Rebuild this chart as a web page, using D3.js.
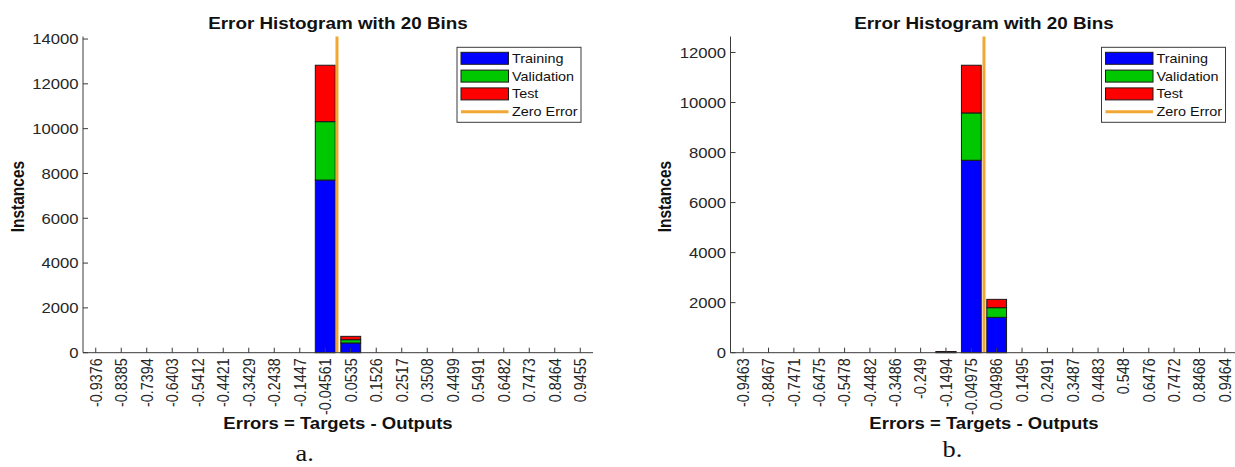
<!DOCTYPE html>
<html>
<head>
<meta charset="utf-8">
<script src="https://cdn.jsdelivr.net/npm/d3@7"></script>
<style>
  html, body { margin: 0; padding: 0; background: #ffffff; }
  svg { display: block; font-family: "Liberation Sans", Arial, sans-serif; }
</style>
</head>
<body>
<svg id="chart" width="1235" height="467"></svg>
<script>
// ---------------- DATA ----------------
const binLabelsA = ["-0.9376","-0.8385","-0.7394","-0.6403","-0.5412","-0.4421","-0.3429","-0.2438","-0.1447","-0.04561",
                    "0.0535","0.1526","0.2517","0.3508","0.4499","0.5491","0.6482","0.7473","0.8464","0.9455"];
const trainA = [0,0,0,0,0,0,0,0,0,7706, 435,0,0,0,0,0,0,0,0,0];
const valA   = [0,0,0,0,0,0,0,0,0,2607, 145,0,0,0,0,0,0,0,0,0];
const testA  = [0,0,0,0,0,0,0,0,0,2517, 150,0,0,0,0,0,0,0,0,0];
const yTicksA = [0,2000,4000,6000,8000,10000,12000,14000];

const binLabelsB = ["-0.9463","-0.8467","-0.7471","-0.6475","-0.5478","-0.4482","-0.3486","-0.249","-0.1494","-0.04975",
                    "0.04986","0.1495","0.2491","0.3487","0.4483","0.548","0.6476","0.7472","0.8468","0.9464"];
const trainB = [0,0,0,0,0,0,0,0,30,7692, 1412,0,0,0,0,0,0,0,0,0];
const valB   = [0,0,0,0,0,0,0,0,6,1892, 388,0,0,0,0,0,0,0,0,0];
const testB  = [0,0,0,0,0,0,0,0,6,1906, 332,0,0,0,0,0,0,0,0,0];
const yTicksB = [0,2000,4000,6000,8000,10000,12000];

const seriesNames = ["Training","Validation","Test"];
const seriesColors = ["#0000ff","#00c800","#ff0000"];
const zeroName = "Zero Error";
const titleText = "Error Histogram with 20 Bins";
const xLabelText = "Errors = Targets - Outputs";
const yLabelText = "Instances";
const subLabels = ["a.","b."];

// ---------------- LAYOUT ----------------
const svg = d3.select("#chart");
const SX = 1.15; // horizontal stretch of the original figure
const panels = [
  {labels: binLabelsA, series: [trainA, valA, testA], yTicks: yTicksA, xRange: [83, 593], sub: subLabels[0], subX: 295.5, subY: 460.5},
  {labels: binLabelsB, series: [trainB, valB, testB], yTicks: yTicksB, xRange: [730.5, 1237.5], sub: subLabels[1], subX: 942.5, subY: 457.3}
];
const yBottom = 352.7, yTop = 36.5;
const axisColor = "#3a3a3a", textColor = "#262626";
const zeroColor = "#f0a733";

function txt(g, x, y, s, o) {
  o = o || {};
  const t = g.append("text")
    .attr("transform", `translate(${x},${y}) scale(${o.sx || SX},1)` + (o.rot ? " rotate(-90)" : ""))
    .attr("font-size", o.size || 14)
    .attr("font-weight", o.bold ? "bold" : "normal")
    .attr("text-anchor", o.anchor || "start")
    .attr("fill", o.color || textColor)
    .text(s);
  if (o.dy) t.attr("dy", o.dy);
  if (o.family) t.attr("font-family", o.family);
  return t;
}

panels.forEach(p => {
  const g = svg.append("g");
  const centers = p.labels.map(Number);
  const bw = (centers[centers.length - 1] - centers[0]) / (centers.length - 1);
  const x = d3.scaleLinear()
    .domain([centers[0] - bw / 2, centers[centers.length - 1] + bw / 2])
    .range(p.xRange);
  const totals = centers.map((c, i) => p.series.reduce((s, a) => s + a[i], 0));
  const y = d3.scaleLinear().domain([0, 1.1 * d3.max(totals)]).range([yBottom, yTop]);
  const barW = (x(bw) - x(0)) * 0.78;

  // bars
  centers.forEach((c, i) => {
    if (totals[i] <= 0) return;
    let base = 0;
    p.series.forEach((arr, k) => {
      const v = arr[i];
      g.append("rect")
        .attr("x", x(c) - barW / 2)
        .attr("width", barW)
        .attr("y", y(base + v))
        .attr("height", Math.max(0.5, y(base) - y(base + v)))
        .attr("fill", seriesColors[k])
        .attr("stroke", "#1a1a1a")
        .attr("stroke-width", 1);
      base += v;
    });
  });

  // zero error line
  g.append("line")
    .attr("x1", x(0)).attr("x2", x(0))
    .attr("y1", y.range()[0]).attr("y2", y(y.domain()[1]))
    .attr("stroke", zeroColor).attr("stroke-width", 3);

  // axes lines
  g.append("line").attr("x1", p.xRange[0]).attr("x2", p.xRange[1])
    .attr("y1", yBottom).attr("y2", yBottom).attr("stroke", axisColor).attr("stroke-width", 1);
  g.append("line").attr("x1", p.xRange[0]).attr("x2", p.xRange[0])
    .attr("y1", yBottom).attr("y2", yTop).attr("stroke", axisColor).attr("stroke-width", 1);

  // x ticks (inward)
  centers.forEach((c, i) => {
    g.append("line").attr("x1", x(c)).attr("x2", x(c))
      .attr("y1", yBottom).attr("y2", yBottom - 5).attr("stroke", axisColor);
    txt(g, x(c), yBottom + 5.5, p.labels[i], {rot: true, anchor: "end", size: 14.4, dy: "0.35em"});
  });

  // y ticks
  p.yTicks.forEach(v => {
    g.append("line").attr("x1", p.xRange[0]).attr("x2", p.xRange[0] + 5)
      .attr("y1", y(v)).attr("y2", y(v)).attr("stroke", axisColor);
    txt(g, p.xRange[0] - 4.5, y(v), String(v), {anchor: "end", size: 14.5, dy: "0.36em"});
  });

  const cx = (p.xRange[0] + p.xRange[1]) / 2;
  // title
  txt(g, cx, 29.3, titleText, {anchor: "middle", size: 16.4, bold: true, color: "#111"});
  // x label
  txt(g, cx, 428.8, xLabelText, {anchor: "middle", size: 16.1, bold: true, color: "#111"});
  // y label
  txt(g, p.xRange[0] - 59.5, (yBottom + yTop) / 2 + 2, yLabelText, {anchor: "middle", size: 15.5, bold: true, rot: true, color: "#111"});

  // legend
  const lw = 124, lh = 75;
  const lx = p.xRange[1] - 12 - lw, ly = 47.3;
  const lg = g.append("g");
  lg.append("rect").attr("x", lx).attr("y", ly).attr("width", lw).attr("height", lh)
    .attr("fill", "#fff").attr("stroke", "#3a3a3a").attr("stroke-width", 1);
  const rowY = i => ly + 11 + i * 17.8;
  seriesNames.forEach((n, k) => {
    lg.append("rect").attr("x", lx + 4).attr("y", rowY(k) - 6).attr("width", 47.5).attr("height", 12)
      .attr("fill", seriesColors[k]).attr("stroke", "#1a1a1a").attr("stroke-width", 1);
    txt(lg, lx + 55, rowY(k), n, {size: 12.5, dy: "0.36em", color: "#111"});
  });
  lg.append("line").attr("x1", lx + 4).attr("x2", lx + 51.5).attr("y1", rowY(3)).attr("y2", rowY(3))
    .attr("stroke", zeroColor).attr("stroke-width", 3);
  txt(lg, lx + 55, rowY(3), zeroName, {size: 12.5, dy: "0.36em", color: "#111"});

  // sub label
  txt(svg, p.subX, p.subY, p.sub, {size: 24, sx: 1.1, family: "'Liberation Serif', 'Times New Roman', serif", color: "#111"});
});
</script>
</body>
</html>
